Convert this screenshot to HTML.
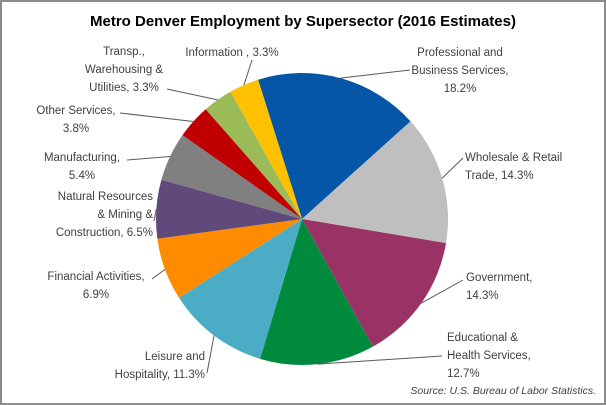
<!DOCTYPE html>
<html><head><meta charset="utf-8"><style>
body{margin:0;background:#fff}
svg{display:block}
text{font-family:"Liberation Sans",sans-serif;fill:#404040;font-size:11.5px}
</style></head><body>
<svg width="606" height="405" viewBox="0 0 606 405">
<rect x="1" y="1" width="604" height="403" fill="#fff" stroke="#8c8c8c" stroke-width="2"/>
<text x="303" y="26" text-anchor="middle" style="font-size:15px;font-weight:bold;fill:#000">Metro Denver Employment by Supersector (2016 Estimates)</text>
<g id="slices"></g>
<g id="labels"></g>
<text x="596" y="394" text-anchor="end" style="font-size:10.5px;font-style:italic">Source: U.S. Bureau of Labor Statistics.</text>
</svg>
<script>
const categories=["Professional and Business Services","Wholesale & Retail Trade","Government","Educational & Health Services","Leisure and Hospitality","Financial Activities","Natural Resources & Mining & Construction","Manufacturing","Other Services","Transp., Warehousing & Utilities","Information"];
const values=[18.2,14.3,14.3,12.7,11.3,6.9,6.5,5.4,3.8,3.3,3.3];
const colors=["#0656a8","#bfbfbf","#993366","#008a3e","#4bacc6","#ff8c00","#604a7b","#808080","#c00000","#9bbb59","#ffc000"];
const labelLines=[["Professional and","Business Services,","18.2%"],["Wholesale & Retail","Trade, 14.3%"],["Government,","14.3%"],["Educational &","Health Services,","12.7%"],["Leisure and","Hospitality, 11.3%"],["Financial Activities,","6.9%"],["Natural Resources","& Mining &","Construction, 6.5%"],["Manufacturing,","5.4%"],["Other Services,","3.8%"],["Transp.,","Warehousing &","Utilities, 3.3%"],["Information , 3.3%"]];
const labelPos=[[460,56,"middle",410,70],[465,161,"start",463,158],[466,281,"start",463,280],[447,341,"start",442,356],[205,360,"end",207,373],[96,280,"middle",152,279],[153,200,"end",154,221],[82,161,"middle",127,160],[76,114,"middle",120,113],[124,55,"middle",167,89],[232,56,"middle",252,60]];
const cx=302,cy=219,r=146,start=-17.5;
const NS="http://www.w3.org/2000/svg";
const total=values.reduce((a,b)=>a+b,0);
function pt(deg,rad){const a=(deg-90)*Math.PI/180;return [cx+rad*Math.cos(a),cy+rad*Math.sin(a)];}
const gs=document.getElementById('slices'),gl=document.getElementById('labels');
let ang=start;
values.forEach((v,i)=>{
  const sweep=v/total*360;const a0=ang,a1=ang+sweep;ang=a1;
  const p0=pt(a0,r),p1=pt(a1,r);
  const path=document.createElementNS(NS,'path');
  path.setAttribute('d',`M${cx},${cy}L${p0[0]},${p0[1]}A${r},${r} 0 ${sweep>180?1:0} 1 ${p1[0]},${p1[1]}Z`);
  path.setAttribute('fill',colors[i]);
  
  
  gs.appendChild(path);
  const lp=labelPos[i];const mid=pt((a0+a1)/2,r);
  const ln=document.createElementNS(NS,'line');
  ln.setAttribute('x1',lp[3]);ln.setAttribute('y1',lp[4]);ln.setAttribute('x2',mid[0]);ln.setAttribute('y2',mid[1]);
  ln.setAttribute('stroke','#595959');ln.setAttribute('stroke-width','1');
  
  
  gl.appendChild(ln);
  const t=document.createElementNS(NS,'text');
  t.setAttribute('x',lp[0]);t.setAttribute('y',lp[1]);t.setAttribute('text-anchor',lp[2]);
  
  
  labelLines[i].forEach((s,k)=>{const ts=document.createElementNS(NS,'tspan');ts.setAttribute('x',lp[0]);ts.setAttribute('dy',k?18:0);ts.textContent=s;t.appendChild(ts);});
  gl.appendChild(t);
});
</script>
</body></html>
